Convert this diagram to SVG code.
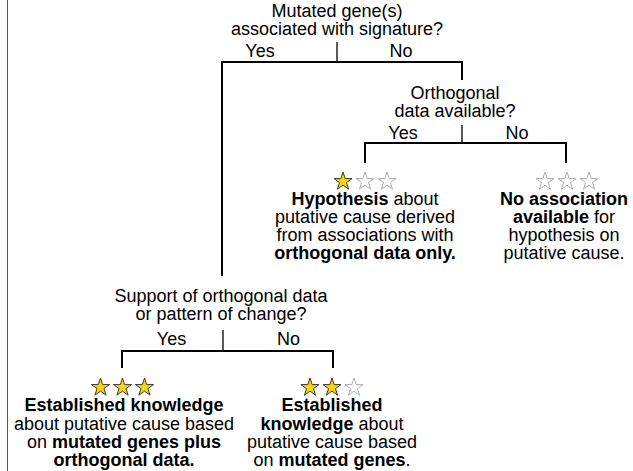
<svg xmlns="http://www.w3.org/2000/svg" width="633" height="471" viewBox="0 0 633 471">
<style>
text{font-family:"Liberation Sans",Arial,sans-serif;font-size:18px;fill:#000;text-anchor:middle}
.b{font-weight:bold}
.br{fill:none;stroke:#000;stroke-width:2;stroke-linecap:butt}
.st{fill:none;stroke:#000;stroke-width:1.3}
.full{fill:#FFD500;stroke:#333;stroke-width:1}
.empty{fill:#fff;stroke:#aaa;stroke-width:1}
</style>
<defs>
<polygon id="star" points="0,-10 2.245,-3.09 9.511,-3.09 3.633,1.18 5.878,8.09 0,3.82 -5.878,8.09 -3.633,1.18 -9.511,-3.09 -2.245,-3.09"/>
</defs>
<rect width="633" height="471" fill="#fff"/>
<line x1="7.5" y1="0" x2="7.5" y2="471" stroke="#555" stroke-width="1"/>
<g id="connectors">
<line class="st" x1="337" y1="42" x2="337" y2="62"/>
<polyline class="br" points="222,276 222,62 462,62 462,80"/>
<line class="st" x1="462" y1="125" x2="462" y2="143"/>
<polyline class="br" points="365,163 365,143 566,143 566,163"/>
<line class="st" x1="223" y1="330" x2="223" y2="351"/>
<polyline class="br" points="122,368 122,351 333,351 333,368"/>
</g>
<g id="q1">
<text x="337" y="17">Mutated gene(s)</text>
<text x="337" y="35">associated with signature?</text>
<text x="260" y="57">Yes</text>
<text x="401" y="57">No</text>
</g>
<g id="q2">
<text x="455" y="99">Orthogonal</text>
<text x="455" y="117">data available?</text>
<text x="403" y="139">Yes</text>
<text x="517" y="139">No</text>
</g>
<g id="hypothesis">
<use href="#star" class="full" transform="translate(343,181.5) scale(0.95)"/>
<use href="#star" class="empty" transform="translate(365,181.5) scale(0.95)"/>
<use href="#star" class="empty" transform="translate(387,181.5) scale(0.95)"/>
<text x="365" y="205"><tspan class="b">Hypothesis</tspan> about</text>
<text x="365" y="223">putative cause derived</text>
<text x="365" y="241">from associations with</text>
<text x="365" y="259" class="b">orthogonal data only.</text>
</g>
<g id="noassoc">
<use href="#star" class="empty" transform="translate(545,181.5) scale(0.95)"/>
<use href="#star" class="empty" transform="translate(567,181.5) scale(0.95)"/>
<use href="#star" class="empty" transform="translate(589,181.5) scale(0.95)"/>
<text x="564" y="205" class="b">No association</text>
<text x="564" y="223"><tspan class="b">available</tspan> for</text>
<text x="564" y="241">hypothesis on</text>
<text x="564" y="259">putative cause.</text>
</g>
<g id="q3">
<text x="221" y="302">Support of orthogonal data</text>
<text x="221" y="320">or pattern of change?</text>
<text x="171.5" y="345">Yes</text>
<text x="288.5" y="345">No</text>
</g>
<g id="established3">
<use href="#star" class="full" transform="translate(100.5,387.5) scale(0.95)"/>
<use href="#star" class="full" transform="translate(122.5,387.5) scale(0.95)"/>
<use href="#star" class="full" transform="translate(144.5,387.5) scale(0.95)"/>
<text x="124" y="411" class="b">Established knowledge</text>
<text x="124" y="429.5">about putative cause based</text>
<text x="124" y="448">on <tspan class="b">mutated genes plus</tspan></text>
<text x="124" y="466" class="b">orthogonal data.</text>
</g>
<g id="established2">
<use href="#star" class="full" transform="translate(310,387.5) scale(0.95)"/>
<use href="#star" class="full" transform="translate(332,387.5) scale(0.95)"/>
<use href="#star" class="empty" transform="translate(354,387.5) scale(0.95)"/>
<text x="332" y="411" class="b">Established</text>
<text x="332" y="429.5"><tspan class="b">knowledge</tspan> about</text>
<text x="332" y="448">putative cause based</text>
<text x="332" y="466">on <tspan class="b">mutated genes</tspan>.</text>
</g>
</svg>
